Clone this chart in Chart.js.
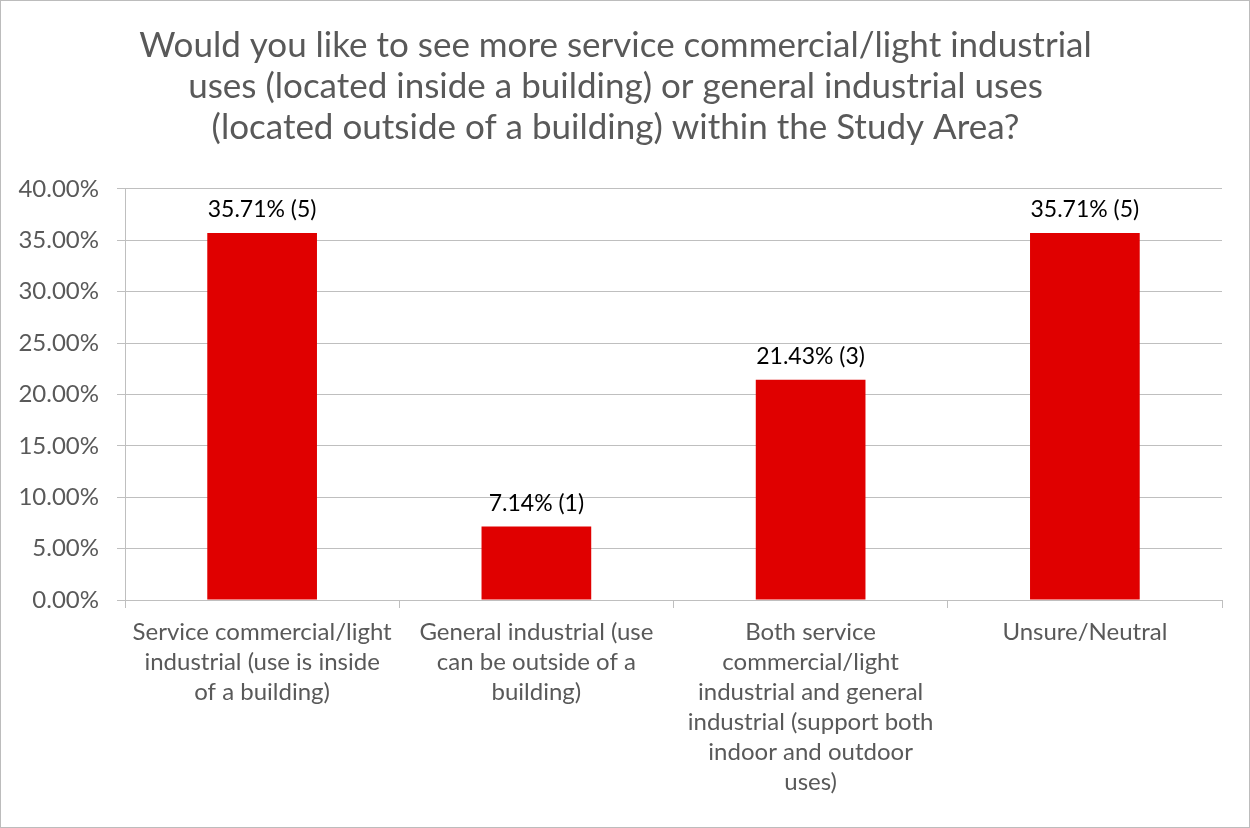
<!DOCTYPE html>
<html>
<head>
<meta charset="utf-8">
<script src="https://cdn.jsdelivr.net/npm/chart.js@4"></script>
<style>
  html, body { margin: 0; padding: 0; background: #fff; }
  .chart-box {
    width: 1250px; height: 828px; box-sizing: border-box;
    border: 1px solid #bcbcbc; position: relative;
  }
</style>
</head>
<body>
<div class="chart-box"><canvas id="chart"></canvas></div>
<script>
const titleLines = [
  'Would you like to see more service commercial/light industrial',
  'uses (located inside a building) or general industrial uses',
  '(located outside of a building) within the Study Area?'
];

const categories = [
  ['Service commercial/light', 'industrial (use is inside', 'of a building)'],
  ['General industrial (use', 'can be outside of a', 'building)'],
  ['Both service', 'commercial/light', 'industrial and general', 'industrial (support both', 'indoor and outdoor', 'uses)'],
  ['Unsure/Neutral']
];

const percents = [35.71, 7.14, 21.43, 35.71];
const counts = [5, 1, 3, 5];

const FONT = 'Lato, "Open Sans", sans-serif';
const GREY = '#595959';
const LINE = '#bfbfbf';

// prints "35.71% (5)" over each bar
const valueLabels = {
  id: 'valueLabels',
  afterDatasetsDraw(chart) {
    const ctx = chart.ctx;
    const meta = chart.getDatasetMeta(0);
    ctx.save();
    ctx.font = '23px ' + FONT;
    ctx.fillStyle = '#000';
    ctx.textAlign = 'center';
    ctx.textBaseline = 'middle';
    meta.data.forEach((bar, i) => {
      const text = percents[i].toFixed(2) + '% (' + counts[i] + ')';
      ctx.fillText(text, bar.x, bar.y - 23);
    });
    ctx.restore();
  }
};

new Chart(document.getElementById('chart'), {
  type: 'bar',
  data: {
    labels: categories,
    datasets: [{
      data: percents,
      backgroundColor: '#e00000',
      categoryPercentage: 0.4,
      barPercentage: 1
    }]
  },
  options: {
    responsive: true,
    maintainAspectRatio: false,
    animation: false,
    layout: { padding: { left: 8, right: 27, top: 0, bottom: 0 } },
    plugins: {
      legend: { display: false },
      tooltip: { enabled: false },
      title: {
        display: true,
        text: titleLines,
        color: GREY,
        font: { family: FONT, size: 35, weight: 'normal', lineHeight: 1.17 },
        padding: { top: 24, bottom: 41 }
      }
    },
    scales: {
      y: {
        min: 0,
        max: 40,
        ticks: {
          stepSize: 5,
          color: GREY,
          font: { family: FONT, size: 24 },
          padding: 18,
          callback: v => v.toFixed(2) + '%'
        },
        grid: { color: LINE, tickLength: 8, tickColor: LINE },
        border: { color: LINE },
        afterFit: s => { s.width = 116; }
      },
      x: {
        ticks: {
          color: GREY,
          font: { family: FONT, size: 24, lineHeight: 1.25 },
          padding: 9,
          maxRotation: 0,
          autoSkip: false
        },
        grid: { offset: true, drawOnChartArea: false, tickLength: 8, color: LINE },
        border: { color: LINE },
        afterFit: s => { s.height = 227; }
      }
    }
  },
  plugins: [valueLabels]
});
</script>
</body>
</html>
